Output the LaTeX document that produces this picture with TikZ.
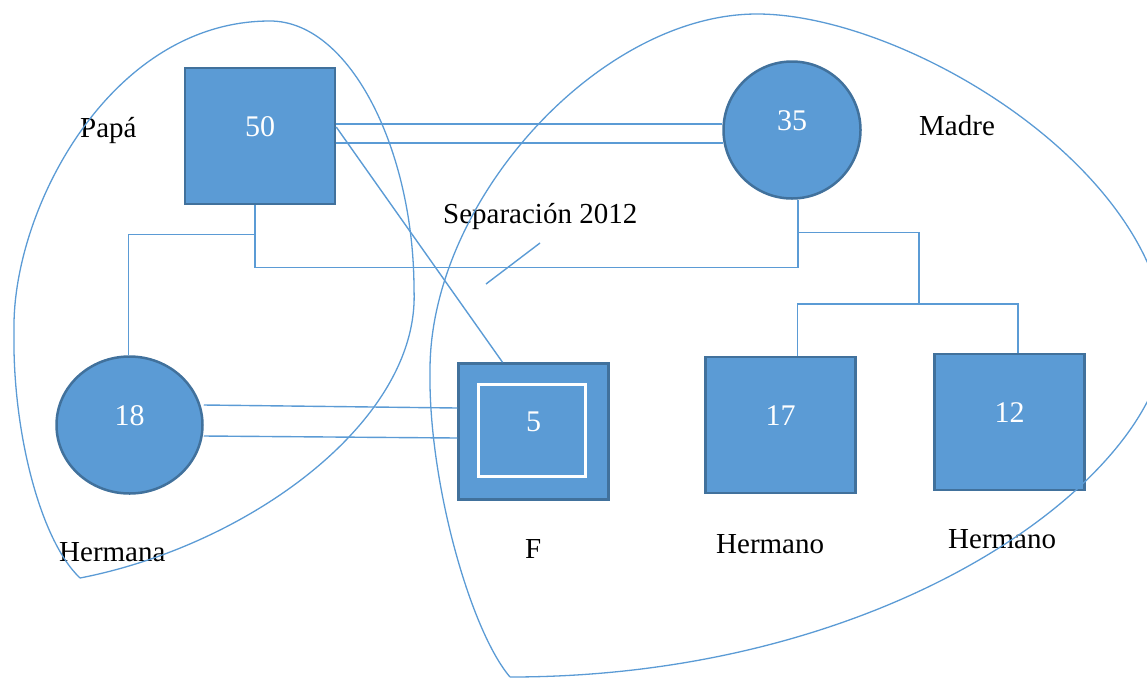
\documentclass[tikz,border=0pt]{standalone}
\usepackage{fontspec}
\setmainfont{Liberation Serif}
\usetikzlibrary{shapes.geometric}
\definecolor{boxfill}{HTML}{5B9BD5}
\definecolor{boxline}{HTML}{41719C}
\definecolor{linkc}{HTML}{5B9BD5}
\tikzset{
  male/.style={rectangle, draw=boxline, fill=boxfill, line width=2.5pt,
    minimum width=150pt, minimum height=136pt, text=white,
    font=\fontsize{30}{36}\selectfont, text height=2pt, text depth=2pt, inner sep=0pt},
  female/.style={ellipse, draw=boxline, fill=boxfill, line width=2.5pt,
    text=white, font=\fontsize{30}{36}\selectfont, text height=2pt, text depth=2pt, inner sep=0pt},
  innerbox/.style={rectangle, draw=white, line width=3pt, minimum width=107pt, minimum height=92pt, inner sep=0pt},
  lbl/.style={font=\fontsize{29}{34}\selectfont, anchor=base west, inner sep=0pt, text=black},
  link/.style={draw=linkc, line width=1.4pt},
  loop/.style={draw=linkc, line width=1.3pt}
}
\begin{document}
\begin{tikzpicture}[x=1pt,y=-1pt]
\useasboundingbox (0,0) rectangle (1147,678);
\clip (0,0) rectangle (1147,678);
% nodes
\node[male] (papa) at (260,136) {50};
\node[female, minimum width=137pt, minimum height=137pt] (madre) at (792,130) {35};
\node[female, minimum width=146pt, minimum height=137pt] (hermana) at (129.5,425) {18};
\node[male] (F) at (533.5,431.5) {5};
\node[innerbox] (Fin) at (532,430.5) {};
\node[male] (h17) at (780.5,425) {17};
\node[male] (h12) at (1009.5,422) {12};
% labels
\node[lbl] (lpapa) at (80,137) {Papá};
\node[lbl] (lmadre) at (919,135) {Madre};
\node[lbl] (lsep) at (443,223) {Separación 2012};
\node[lbl] (lhermana) at (59,561) {Hermana};
\node[lbl] (lF) at (525,558) {F};
\node[lbl] (lh17) at (716,553) {Hermano};
\node[lbl] (lh12) at (948,548) {Hermano};
% connectors
\draw[link] ([yshift=12pt]papa.east) -- ([yshift=6pt]madre.west);
\draw[link] ([yshift=-7pt]papa.east) -- ([yshift=-13pt,xshift=1pt]madre.west);
\draw[link] ([yshift=9pt]papa.east) -- ([xshift=-31pt]F.north);
\draw[link] ([xshift=-5pt]papa.south) -- ++(0,62) -| ([xshift=6pt]madre.south);
\draw[link] ([xshift=-5pt,yshift=-29pt]papa.south) -| ([xshift=-1pt]hermana.north);
\coordinate (sib) at (919,304);
\draw[link] ([xshift=6pt,yshift=-33pt]madre.south) -| (sib);
\draw[link] ([xshift=17pt]h17.north) |- (sib) -| ([xshift=8.5pt]h12.north);
\draw[link] ([yshift=20pt]hermana.east) -- ([yshift=23.5pt]F.west);
\draw[link] ([yshift=-11pt]hermana.east) -- ([yshift=-6.5pt]F.west);
\coordinate (sepA) at (486,284);
\coordinate (sepB) at (540,243);
\draw[link] (sepA) -- (sepB);
% family loops
\draw[loop] (80,578) .. controls (40,540) and (12,430) .. (14,330)
  .. controls (12,210) and (110,21) .. (270,21)
  .. controls (350,21) and (414,150) .. (414,290)
  .. controls (420,420) and (250,545) .. (80,578);
\draw[loop] (510,677) .. controls (470,630) and (428,480) .. (430,370)
  .. controls (430,200) and (600,14) .. (757,14)
  .. controls (900,14) and (1150,160) .. (1166,330)
  .. controls (1170,470) and (900,677) .. (510,677);
\end{tikzpicture}
\end{document}
